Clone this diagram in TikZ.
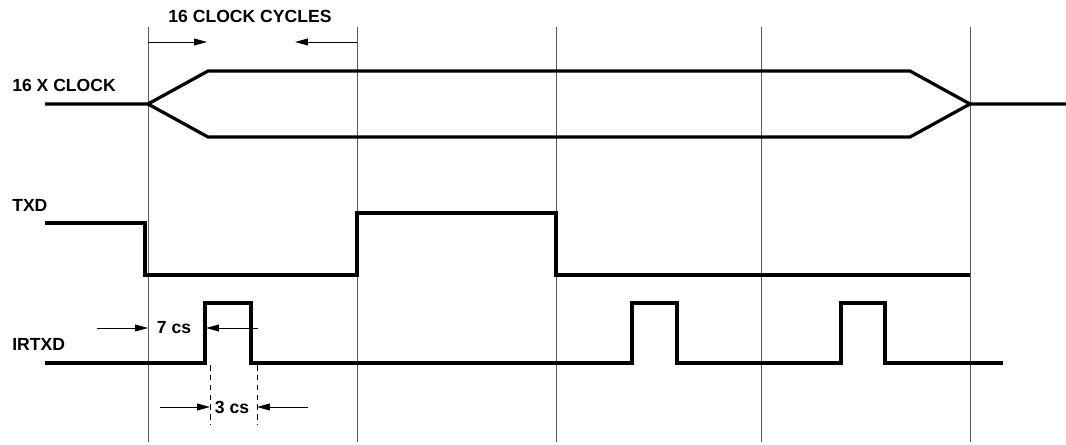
\documentclass[tikz,border=0pt]{standalone}
\usepackage{fontspec}
\setmainfont{Liberation Sans}
\usetikzlibrary{arrows.meta}
\tikzset{
  senal/.style={line width=2.3pt, line join=miter},
  rejilla/.style={line width=0.6pt, black!65},
  cota/.style={-{Triangle[length=3.2mm,width=1.7mm]}, line width=0.6pt},
  guia/.style={line width=0.6pt, dashed, dash pattern=on 4pt off 3pt},
  etiq/.style={font=\fontsize{12.5}{14}\selectfont\bfseries, inner sep=0pt},
  nombre/.style={etiq, anchor=west}
}
\begin{document}
\begin{tikzpicture}[x=0.025cm, y=-0.025cm]
\useasboundingbox (0,0) rectangle (1066,445);

\foreach \xx in {148,357,556,761,970}
  \draw[rejilla] (\xx,27) -- (\xx,442);

\node[nombre] (nclk) at (12,85) {16 X CLOCK};
\node[nombre] (ntxd) at (12,205) {TXD};
\node[nombre] (nir) at (12,344) {IRTXD};
\node[etiq] (ciclos) at (250,16) {16 CLOCK CYCLES};
\node[etiq] (siete) at (174,328) {7 cs};
\node[etiq] (tres) at (232,407) {3 cs};

\draw[senal] (45,104) -- (148,104) -- (208,71) -- (910,71) -- (970,104) -- (1066,104);
\draw[senal] (148,104) -- (208,137) -- (910,137) -- (970,104);

\draw[senal] (45,223) -- (145,223) -- (145,275) -- (357,275) -- (357,213)
  -- (556,213) -- (556,275) -- (970,275);

\draw[senal] (45,363) -- (205,363) -- (205,303) -- (251,303) -- (251,363)
  -- (632,363) -- (632,303) -- (677,303) -- (677,363)
  -- (841,363) -- (841,303) -- (885,303) -- (885,363) -- (1003,363);

\coordinate (c1a) at (148,42);
\coordinate (c1b) at (207,42);
\coordinate (c2a) at (357,42);
\coordinate (c2b) at (295,42);
\draw[cota] (c1a) -- (c1b);
\draw[cota] (c2a) -- (c2b);

\coordinate (s1a) at (97,328);
\coordinate (s1b) at (148,328);
\coordinate (s2a) at (258,328);
\coordinate (s2b) at (206,328);
\draw[cota] (s1a) -- (s1b);
\draw[cota] (s2a) -- (s2b);

\draw[guia] (210,365) -- (210,425);
\draw[guia] (257,365) -- (257,425);
\coordinate (t1a) at (160,407);
\coordinate (t1b) at (210,407);
\coordinate (t2a) at (308,407);
\coordinate (t2b) at (257,407);
\draw[cota] (t1a) -- (t1b);
\draw[cota] (t2a) -- (t2b);
\end{tikzpicture}
\end{document}
